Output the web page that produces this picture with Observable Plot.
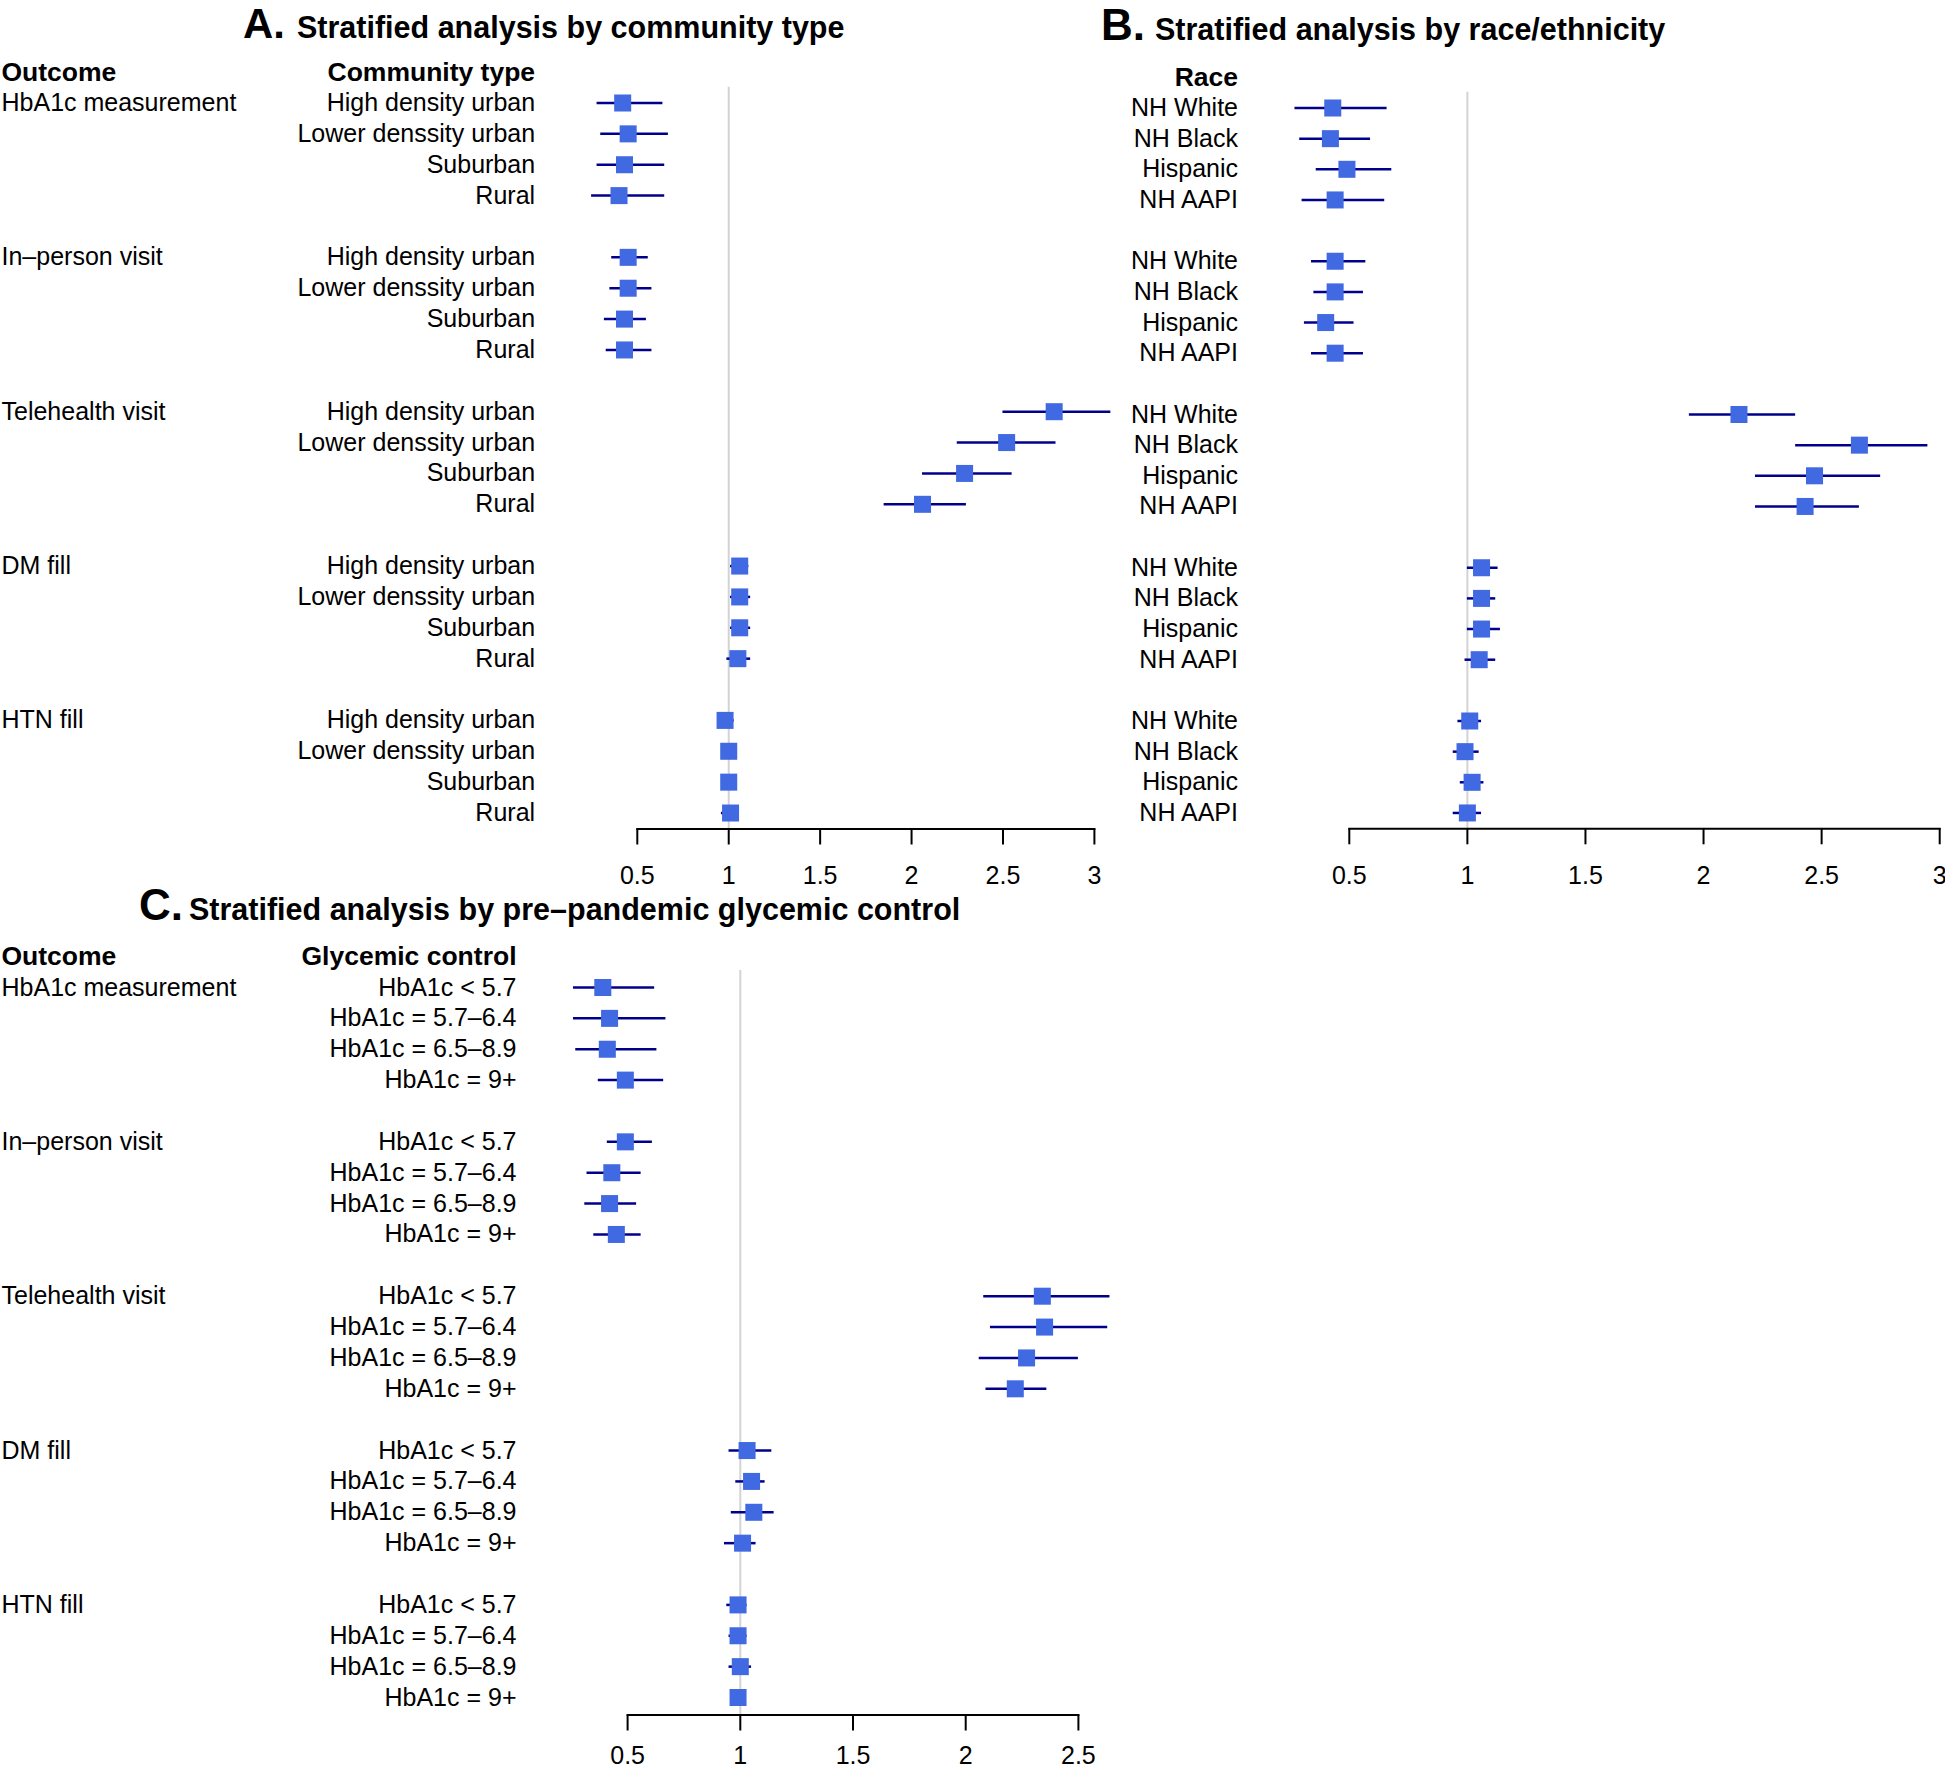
<!DOCTYPE html>
<html>
<head>
<meta charset="utf-8">
<script src="https://cdn.jsdelivr.net/npm/d3@7"></script>
<script src="https://cdn.jsdelivr.net/npm/@observablehq/plot@0.6"></script>
<style>
  html, body { margin: 0; padding: 0; background: white; overflow: hidden; }
  #wrap { position: relative; width: 1945px; height: 1768px; background: white; }
  #wrap > svg, #wrap > figure { position: absolute; left: 0; top: 0; margin: 0; }
</style>
</head>
<body>
<div id="wrap"></div>
<script>
// ---------------- data ----------------
const outcomes = ["HbA1c measurement", "In\u2013person visit", "Telehealth visit", "DM fill", "HTN fill"];

const communityTypes = ["High density urban", "Lower denssity urban", "Suburban", "Rural"];
const communityOR = [0.42, 0.45, 0.43, 0.40,  0.45, 0.45, 0.43, 0.43,  2.78, 2.52, 2.29, 2.06,  1.06, 1.06, 1.06, 1.05,  0.98, 1.00, 1.00, 1.01];
const communityLo = [0.28, 0.30, 0.28, 0.25,  0.36, 0.35, 0.32, 0.33,  2.50, 2.25, 2.06, 1.85,  1.01, 1.01, 1.01, 0.99,  0.94, 0.96, 0.96, 0.96];
const communityHi = [0.64, 0.67, 0.65, 0.65,  0.56, 0.58, 0.55, 0.58,  3.09, 2.79, 2.55, 2.30,  1.11, 1.12, 1.12, 1.12,  1.03, 1.04, 1.04, 1.05];

const races = ["NH White", "NH Black", "Hispanic", "NH AAPI"];
const raceOR = [0.43, 0.42, 0.49, 0.44,  0.44, 0.44, 0.40, 0.44,  2.15, 2.66, 2.47, 2.43,  1.06, 1.06, 1.06, 1.05,  1.01, 0.99, 1.02, 1.00];
const raceLo = [0.27, 0.29, 0.36, 0.30,  0.34, 0.35, 0.31, 0.34,  1.94, 2.39, 2.22, 2.22,  1.00, 1.00, 1.00, 0.99,  0.96, 0.94, 0.97, 0.94];
const raceHi = [0.66, 0.59, 0.68, 0.65,  0.57, 0.56, 0.52, 0.56,  2.39, 2.95, 2.75, 2.66,  1.13, 1.12, 1.14, 1.12,  1.06, 1.05, 1.07, 1.06];

const glycemic = ["HbA1c < 5.7", "HbA1c = 5.7\u20136.4", "HbA1c = 6.5\u20138.9", "HbA1c = 9+"];
const glyOR = [0.39, 0.42, 0.41, 0.49,  0.49, 0.43, 0.42, 0.45,  2.34, 2.35, 2.27, 2.22,  1.03, 1.05, 1.06, 1.01,  0.99, 0.99, 1.00, 0.99];
const glyLo = [0.26, 0.26, 0.27, 0.37,  0.41, 0.32, 0.31, 0.35,  2.08, 2.11, 2.06, 2.09,  0.95, 0.98, 0.96, 0.93,  0.94, 0.95, 0.95, 0.96];
const glyHi = [0.62, 0.67, 0.63, 0.66,  0.61, 0.56, 0.54, 0.56,  2.64, 2.63, 2.50, 2.36,  1.14, 1.11, 1.15, 1.07,  1.03, 1.03, 1.05, 1.02];

const ticksAB = [0.5, 1, 1.5, 2, 2.5, 3];
const ticksC = [0.5, 1, 1.5, 2, 2.5];

// ---------------- helpers ----------------
const W = 1945, H = 1768;
const FONT = "'Liberation Sans', Arial, Helvetica, sans-serif";

function buildRows(groups, OR, LO, HI) {
  const rows = [];
  outcomes.forEach((o, g) => {
    groups.forEach((s, r) => {
      const i = g * groups.length + r;
      rows.push({key: "r" + (g * 5 + r), outcome: o, subgroup: s, or: OR[i], lo: LO[i], hi: HI[i], first: r === 0});
    });
  });
  return rows;
}

function forest(cfg) {
  const rows = buildRows(cfg.groups, cfg.OR, cfg.LO, cfg.HI);
  const domain = ["hdr"];
  for (let i = 0; i < 24; i++) domain.push("r" + i);
  const yHdr = cfg.row0 - cfg.step;
  const yLast = cfg.row0 + 23 * cfg.step;
  const headers = [{key: "hdr", t: cfg.groupHeader}];
  const marks = [
    Plot.ruleX([1], {stroke: "#d3d3d3", strokeWidth: 2}),
    Plot.frame({anchor: "bottom", strokeWidth: 2}),
    Plot.axisX(cfg.ticks, {anchor: "bottom", tickSize: 16, tickPadding: cfg.tickPadding, strokeWidth: 2, fontSize: 25, tickFormat: d => String(d)}),
    Plot.ruleY(rows, {y: "key", x1: "lo", x2: "hi", stroke: "#00008b", strokeWidth: 2.5}),
    Plot.dot(rows, {x: "or", y: "key", symbol: "square", r: 9.6, fill: "royalblue", stroke: "none"}),
    Plot.text(rows, {y: "key", text: "subgroup", frameAnchor: "left", textAnchor: "end", dx: cfg.labelRight - cfg.xRange[0], fontSize: 25}),
    Plot.text(headers, {y: "key", text: "t", frameAnchor: "left", textAnchor: "end", dx: cfg.labelRight - cfg.xRange[0], fontSize: 26.5, fontWeight: "bold"})
  ];
  if (cfg.showOutcome) {
    marks.push(Plot.text(rows.filter(d => d.first), {y: "key", text: "outcome", frameAnchor: "left", textAnchor: "start", dx: 1 - cfg.xRange[0], fontSize: 25}));
    marks.push(Plot.text([{key: "hdr", t: "Outcome"}], {y: "key", text: "t", frameAnchor: "left", textAnchor: "start", dx: 1 - cfg.xRange[0], fontSize: 26.5, fontWeight: "bold"}));
  }
  return Plot.plot({
    width: W, height: H,
    marginLeft: cfg.xRange[0], marginRight: W - cfg.xRange[1],
    marginTop: cfg.lineTop, marginBottom: H - cfg.axisY,
    style: {background: "transparent", fontFamily: FONT, fontSize: "25px", color: "black", overflow: "visible"},
    x: {domain: cfg.xDomain, range: cfg.xRange},
    y: {type: "point", domain, range: [yHdr, yLast], padding: 0, align: 0.5, round: false, axis: null},
    marks
  });
}

const wrap = document.getElementById("wrap");

wrap.appendChild(forest({
  groups: communityTypes, OR: communityOR, LO: communityLo, HI: communityHi,
  groupHeader: "Community type", showOutcome: true,
  xDomain: [0.5, 3], xRange: [636.8, 1093.9], ticks: ticksAB, tickPadding: 21,
  row0: 102.5, step: 30.87, lineTop: 86.7, axisY: 828.5, labelRight: 534.6
}));

wrap.appendChild(forest({
  groups: races, OR: raceOR, LO: raceLo, HI: raceHi,
  groupHeader: "Race", showOutcome: false,
  xDomain: [0.5, 3], xRange: [1348.8, 1939.2], ticks: ticksAB, tickPadding: 21,
  row0: 107.5, step: 30.65, lineTop: 91.7, axisY: 828.3, labelRight: 1237.5
}));

wrap.appendChild(forest({
  groups: glycemic, OR: glyOR, LO: glyLo, HI: glyHi,
  groupHeader: "Glycemic control", showOutcome: true,
  xDomain: [0.5, 2.5], xRange: [627.1, 1077.9], ticks: ticksC, tickPadding: 15,
  row0: 987, step: 30.87, lineTop: 970, axisY: 1714.5, labelRight: 516
}));

// ---------------- panel titles ----------------
const titles = [
  {letter: "A.", text: "Stratified analysis by community type", lx: 243, tx: 297, base: 38, ls: 41.9},
  {letter: "B.", text: "Stratified analysis by race/ethnicity", lx: 1101, tx: 1155, base: 40, ls: 44},
  {letter: "C.", text: "Stratified analysis by pre\u2013pandemic glycemic control", lx: 139, tx: 189, base: 920, ls: 44}
];
const tsvg = d3.create("svg").attr("width", W).attr("height", H)
  .style("position", "absolute").style("left", 0).style("top", 0)
  .attr("font-family", FONT).attr("font-weight", "bold").attr("fill", "black");
titles.forEach(t => {
  tsvg.append("text").attr("x", t.lx).attr("y", t.base).attr("font-size", t.ls).text(t.letter);
  tsvg.append("text").attr("x", t.tx).attr("y", t.base).attr("font-size", 30.5).text(t.text);
});
wrap.appendChild(tsvg.node());
</script>
</body>
</html>
